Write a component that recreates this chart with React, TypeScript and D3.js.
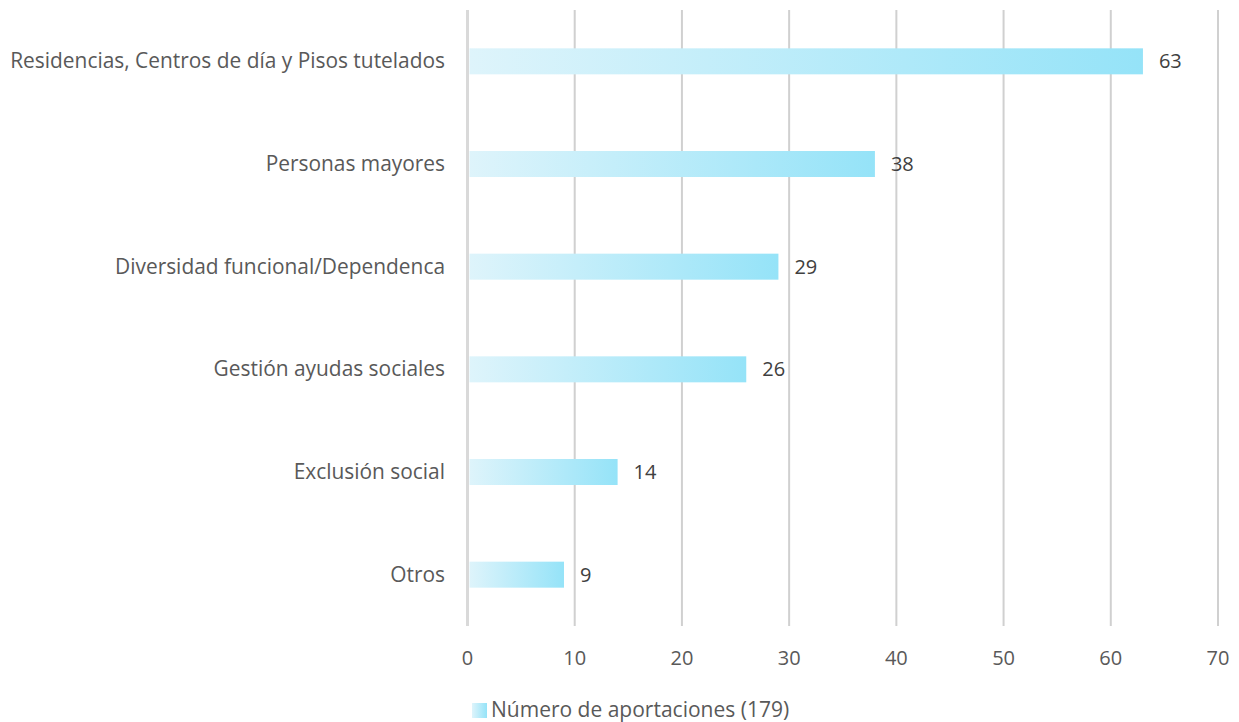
import React from "react";
import * as d3 from "d3";

const categories = [
  "Residencias, Centros de día y Pisos tutelados",
  "Personas mayores",
  "Diversidad funcional/Dependenca",
  "Gestión ayudas sociales",
  "Exclusión social",
  "Otros",
];
const values = [63, 38, 29, 26, 14, 9];
const xTicks = [0, 10, 20, 30, 40, 50, 60, 70];
const legendLabel = "Número de aportaciones (179)";

const W = 1239;
const H = 722;
const FONT = "'Open Sans', sans-serif";

export default function App() {
  const x = d3.scaleLinear().domain([0, 70]).range([467.5, 1218]);
  const y = d3.scaleBand().domain(categories).range([10, 626]);
  const barH = 26;
  return (
    <svg width={W} height={H} style={{ position: "absolute", left: 0, top: 0, background: "#fff" }} fontFamily={FONT}>
      <defs>
        <linearGradient id="barGrad" x1="0" x2="1" y1="0" y2="0">
          <stop offset="0" stopColor="#def4fb" />
          <stop offset="1" stopColor="#95e3f8" />
        </linearGradient>
      </defs>
      {xTicks.filter((t) => t > 0).map((t) => (
        <line key={t} x1={x(t)} x2={x(t)} y1={10} y2={626} stroke="#d0d0d0" strokeWidth={2} />
      ))}
      <line x1={x(0)} x2={x(0)} y1={10} y2={626} stroke="#d9d9d9" strokeWidth={3} />
      {xTicks.map((t) => (
        <text key={t} x={x(t)} y={665} textAnchor="middle" fontSize={20} fill="#595959">
          {t}
        </text>
      ))}
      {categories.map((c, i) => {
        const cy = (y(c) as number) + y.bandwidth() / 2;
        return (
          <g key={c}>
            <rect x={x(0) + 2} y={cy - barH / 2} width={x(values[i]) - x(0) - 2} height={barH} fill="url(#barGrad)" />
            <text x={445} y={cy + 7} textAnchor="end" fontSize={20.9} fill="#595959">
              {c}
            </text>
            <text x={x(values[i]) + 16} y={cy + 7} fontSize={20} fill="#404040">
              {values[i]}
            </text>
          </g>
        );
      })}
      <rect x={472} y={703} width={15} height={15} fill="url(#barGrad)" />
      <text x={491} y={717} fontSize={21} fill="#595959">
        {legendLabel}
      </text>
    </svg>
  );
}
